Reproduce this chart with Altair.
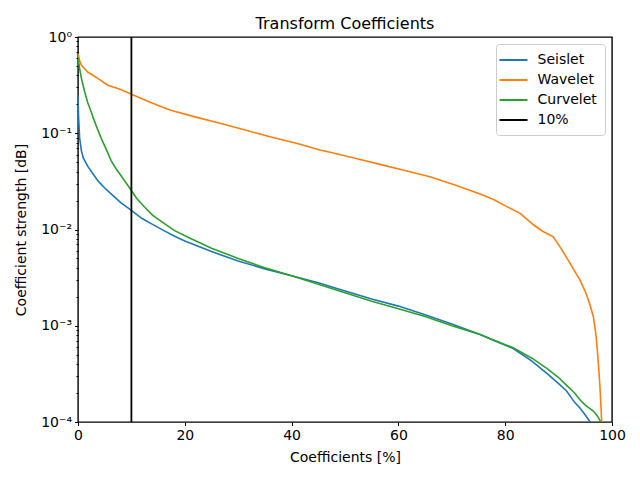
import altair as alt
import pandas as pd

# ---- data ----
seislet_x = [0, 0.1, 0.3, 0.63, 1.0, 1.87, 2.8, 3.75, 5, 6.2, 8, 9.87, 12, 13.7, 16, 18.1, 20, 25, 30, 35,
             40, 45, 50, 55, 60, 65, 70, 75.3, 78, 81.5, 85, 87.8, 90, 91.5, 93, 94.0, 95, 95.9, 96.3]
seislet_y = [0.25, 0.15, 0.09, 0.066, 0.055, 0.045, 0.038, 0.032, 0.027, 0.0235, 0.019, 0.016, 0.013,
             0.0115, 0.0098, 0.0085, 0.0076, 0.0059, 0.0047, 0.0039, 0.0033, 0.0028, 0.0023, 0.0019,
             0.0016, 0.0013, 0.00104, 0.00081, 0.0007, 0.00058, 0.00043, 0.00032, 0.00025, 0.00021,
             0.00016, 0.00014, 0.000118, 0.0001, 0.00009]

wavelet_x = [0, 0.3, 0.62, 1.2, 1.87, 2.8, 3.75, 5.6, 7.87, 9.93, 13.5, 17.2, 21.9, 26.6, 31.3, 35.95,
             41.6, 45.3, 47.2, 51.9, 56.55, 61.2, 65.9, 70.6, 75.3, 77.8, 80.3, 82.8, 85.3, 87, 89,
             90.5, 92.1, 93, 94, 95.1, 95.8, 96.5, 97, 97.25, 97.5, 97.75, 97.95, 98.07, 98.1]
wavelet_y = [0.67, 0.57, 0.51, 0.47, 0.43, 0.40, 0.37, 0.316, 0.286, 0.256, 0.21, 0.174, 0.148, 0.127,
             0.108, 0.092, 0.077, 0.067, 0.0634, 0.055, 0.0475, 0.041, 0.0354, 0.029, 0.0234, 0.0205,
             0.0173, 0.0147, 0.0112, 0.0096, 0.0084, 0.0063, 0.0045, 0.0037, 0.003, 0.0022, 0.0017,
             0.00125, 0.0008, 0.00056, 0.00037, 0.00023, 0.00014, 0.0001, 0.00009]

curvelet_x = [0, 0.3, 0.7, 1.25, 1.8, 2.5, 2.8, 3.4, 4.37, 5.3, 6.2, 7.1, 8.1, 9.87, 11, 12.5, 14, 16.2,
              18, 20.6, 25, 30, 35, 40, 45, 50, 55, 60, 65, 70, 75.3, 81.5, 85, 87.8, 90, 91.5, 93,
              94, 95, 96.5, 97.3, 97.9, 98.2]
curvelet_y = [0.62, 0.47, 0.36, 0.27, 0.21, 0.165, 0.147, 0.12, 0.088, 0.068, 0.052, 0.043, 0.036,
              0.026, 0.021, 0.017, 0.014, 0.0115, 0.0098, 0.0083, 0.0064, 0.005, 0.004, 0.0033,
              0.0027, 0.0022, 0.0018, 0.0015, 0.00125, 0.001, 0.00081, 0.00059, 0.00046, 0.00036,
              0.00029, 0.00024, 0.0002, 0.00017, 0.00015, 0.00013, 0.000115, 0.0001, 0.00009]

threshold_x = [10]
series_names = ["Seislet", "Wavelet", "Curvelet", "10%"]
series_colors = ["#1f77b4", "#ff7f0e", "#2ca02c", "#000000"]

x_ticks = [0, 20, 40, 60, 80, 100]
major_y = [1e-4, 1e-3, 1e-2, 1e-1, 1]
major_labels = ["10⁻⁴", "10⁻³", "10⁻²", "10⁻¹", "10⁰"]

# ---- build tables ----
frames = []
for name, xs, ys in [("Seislet", seislet_x, seislet_y),
                     ("Wavelet", wavelet_x, wavelet_y),
                     ("Curvelet", curvelet_x, curvelet_y)]:
    frames.append(pd.DataFrame({"x": xs, "y": ys, "series": name, "order": range(len(xs))}))
lines_df = pd.concat(frames, ignore_index=True)
rule_df = pd.DataFrame({"x": threshold_x, "series": ["10%"]})

y_values = []
for e in range(-4, 0):
    for m in range(1, 10):
        y_values.append(round(m * 10 ** e, 10))
y_values.append(1)

label_expr = " : ".join(
    [f"abs(datum.value - {v}) < {v}*1e-6 ? '{l}'" for v, l in zip(major_y, major_labels)]
) + " : ''"
is_major = "abs(log(datum.value)/LN10 - round(log(datum.value)/LN10)) < 1e-6"

FONT = "DejaVu Sans"

color = alt.Color(
    "series:N",
    scale=alt.Scale(domain=series_names, range=series_colors),
    legend=alt.Legend(
        title=None, orient="top-right", offset=7, symbolType="M-2,0H2",
        symbolSize=196, symbolStrokeWidth=2, labelFontSize=14, labelFont=FONT,
        labelColor="#000000", rowPadding=5, padding=8, fillColor="white",
        strokeColor="#cccccc", cornerRadius=3, labelOffset=16, symbolOffset=1.5,
    ),
)

x_enc = alt.X(
    "x:Q",
    scale=alt.Scale(domain=[0, 100], nice=False, zero=False),
    axis=alt.Axis(values=x_ticks, title="Coefficients [%]", grid=False, tickSize=3.5,
                  tickColor="black", labelColor="black", labelFontSize=14, labelFont=FONT,
                  titleFont=FONT, titleFontSize=14, titleFontWeight="normal", titleColor="black",
                  labelPadding=3, titlePadding=8, domain=False, labelFlush=False),
)

lines = alt.Chart(lines_df).mark_line(strokeWidth=1.6, clip=True).encode(
    x=x_enc,
    y=alt.Y(
        "y:Q",
        scale=alt.Scale(type="log", domain=[1e-4, 1], nice=False),
        axis=alt.Axis(values=y_values, labelExpr=label_expr, title="Coefficient strength [dB]",
                      grid=False,
                      tickSize={"condition": {"test": is_major, "value": 3.5}, "value": 2},
                      tickColor="black", labelColor="black", labelFontSize=14, labelFont=FONT,
                      titleFont=FONT, titleFontSize=14, titleFontWeight="normal",
                      titleColor="black", labelPadding=3, titlePadding=12, domain=False,
                      labelFlush=False, labelOverlap=False),
    ),
    color=color,
    order="order:Q",
)

rule = alt.Chart(rule_df).mark_rule(strokeWidth=1.8, clip=True).encode(
    x="x:Q",
    color=color,
)

chart = alt.layer(lines, rule).properties(
    width=534,
    height=385,
    title=alt.TitleParams("Transform Coefficients", font=FONT, fontSize=16,
                          fontWeight="normal", color="black", offset=-2),
    autosize=alt.AutoSizeParams(type="none"),
    padding={"left": 70, "top": 29, "right": 20, "bottom": 55},
).configure(background="white").configure_view(stroke="#000000", strokeWidth=1.4)

chart.save("out.html", embed_options={"renderer": "svg", "actions": False})
